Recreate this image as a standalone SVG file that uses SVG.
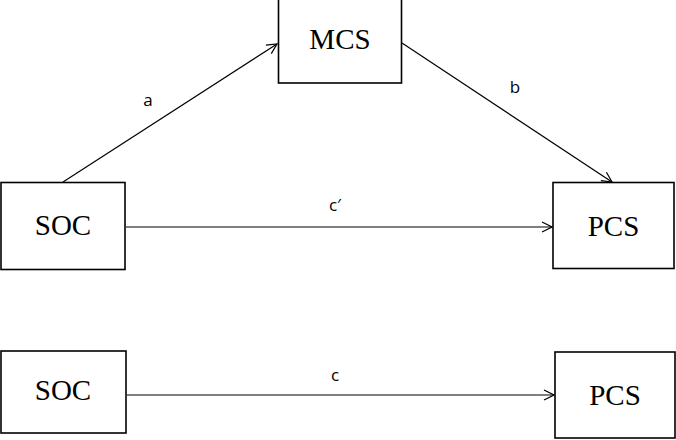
<svg xmlns="http://www.w3.org/2000/svg" width="676" height="440" viewBox="0 0 676 440">
<defs>
<style>
.box{fill:#fff;stroke:#000;stroke-width:1.6}
.nt{font-family:"Liberation Serif","Times New Roman",serif;font-size:29px;text-anchor:middle;fill:#000}
.lbl{font-family:"Open Sans","Liberation Sans",sans-serif;font-size:17px;text-anchor:middle;fill:#000}
.edge{stroke:#000;stroke-width:1.2;fill:none;marker-end:url(#arr)}
</style>
<marker id="arr" viewBox="0 0 12 12" refX="11" refY="6" markerWidth="12" markerHeight="12" markerUnits="userSpaceOnUse" orient="auto">
<path d="M1,1 L11,6 L1,11" fill="none" stroke="#000" stroke-width="1.2"/>
</marker>
</defs>
<rect width="676" height="440" fill="#fff"/>
<g id="connectors">
<line class="edge" x1="63" y1="182" x2="277" y2="44"/>
<line class="edge" x1="402" y1="43" x2="612" y2="182"/>
<line class="edge" x1="126" y1="227" x2="552" y2="227"/>
<line class="edge" x1="127" y1="395" x2="554" y2="395"/>
<text class="lbl" x="148" y="106">a</text>
<text class="lbl" x="515" y="93">b</text>
<text class="lbl" x="335" y="211">c′</text>
<text class="lbl" x="335" y="381">c</text>
</g>
<g id="mcs">
<rect class="box" x="278.5" y="-1" width="123" height="84"/>
<text class="nt" x="340" y="49">MCS</text>
</g>
<g id="soc1">
<rect class="box" x="1" y="182.5" width="124" height="87"/>
<text class="nt" x="63" y="235">SOC</text>
</g>
<g id="pcs1">
<rect class="box" x="553" y="182.5" width="121" height="86"/>
<text class="nt" x="613.5" y="236">PCS</text>
</g>
<g id="soc2">
<rect class="box" x="1" y="351" width="125" height="82"/>
<text class="nt" x="63" y="400">SOC</text>
</g>
<g id="pcs2">
<rect class="box" x="555" y="352" width="120" height="86"/>
<text class="nt" x="615" y="405">PCS</text>
</g>
</svg>
